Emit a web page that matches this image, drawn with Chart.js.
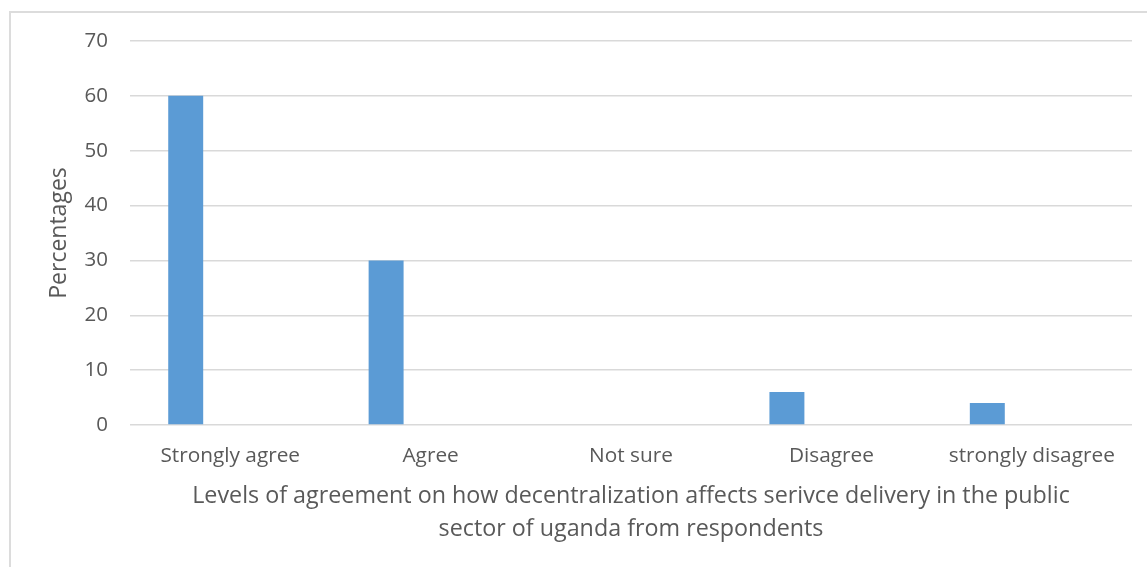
<!DOCTYPE html>
<html>
<head>
<meta charset="utf-8">
<script src="https://cdn.jsdelivr.net/npm/chart.js@4"></script>
<style>
  html, body { margin: 0; padding: 0; background: #ffffff; }
  #frame {
    position: absolute; left: 9px; top: 11px; width: 1200px; height: 620px;
    border: 2px solid #dcdcdc; box-sizing: border-box;
  }
  #wrap { position: absolute; left: 0; top: 0; width: 1147px; height: 567px; }
</style>
</head>
<body>
<div id="frame"></div>
<div id="wrap"><canvas id="chart" width="1147" height="567"></canvas></div>
<script>
// Survey categories and response shares (%)
const categories = ['Strongly agree', 'Agree', 'Not sure', 'Disagree', 'strongly disagree'];
const percentages = [60, 30, 0, 6, 4];
// Two blank series keep their slots in each group, so the filled bar sits left of centre
const blankSeries = [null, null, null, null, null];
const yTicks = [0, 10, 20, 30, 40, 50, 60, 70];

const yTitle = 'Percentages';
const xTitle = [
  'Levels of agreement on how decentralization affects serivce delivery in the public',
  'sector of uganda from respondents'
];

const textColor = '#595959';
const gridColor = '#d9d9d9';
const barColor = '#5b9bd5';
const family = '"Open Sans", Lato, sans-serif';

const barOpts = { categoryPercentage: 0.666, barPercentage: 0.786 };

new Chart(document.getElementById('chart'), {
  type: 'bar',
  data: {
    labels: categories,
    datasets: [
      Object.assign({ label: 'Series1', data: percentages, backgroundColor: barColor }, barOpts),
      Object.assign({ label: 'Series2', data: blankSeries, backgroundColor: barColor }, barOpts),
      Object.assign({ label: 'Series3', data: blankSeries, backgroundColor: barColor }, barOpts)
    ]
  },
  options: {
    responsive: false,
    animation: false,
    layout: { padding: { left: 0, right: 15, top: 41, bottom: 21.5 } },
    plugins: { legend: { display: false }, tooltip: { enabled: false } },
    scales: {
      x: {
        grid: { display: false, drawTicks: false },
        border: { display: false },
        ticks: { color: textColor, font: { family, size: 20.8 }, padding: 18.5, maxRotation: 0, autoSkip: false },
        title: {
          display: true, text: xTitle, color: textColor,
          font: { family, size: 23.3, lineHeight: 1.416 }, padding: { top: 0, bottom: 0 }
        },
        afterFit: s => { s.height = 120.5; }
      },
      y: {
        min: 0, max: 70,
        afterBuildTicks: s => { s.ticks = yTicks.map(v => ({ value: v })); },
        grid: { color: gridColor, lineWidth: 1.5, drawTicks: false },
        border: { display: false },
        ticks: { color: textColor, font: { family, size: 20.5 }, padding: 22 },
        title: {
          display: true, text: yTitle, color: textColor,
          font: { family, size: 23 }, padding: { top: 46, bottom: 0 }
        },
        afterFit: s => { s.width = 130; }
      }
    }
  }
});
</script>
</body>
</html>
